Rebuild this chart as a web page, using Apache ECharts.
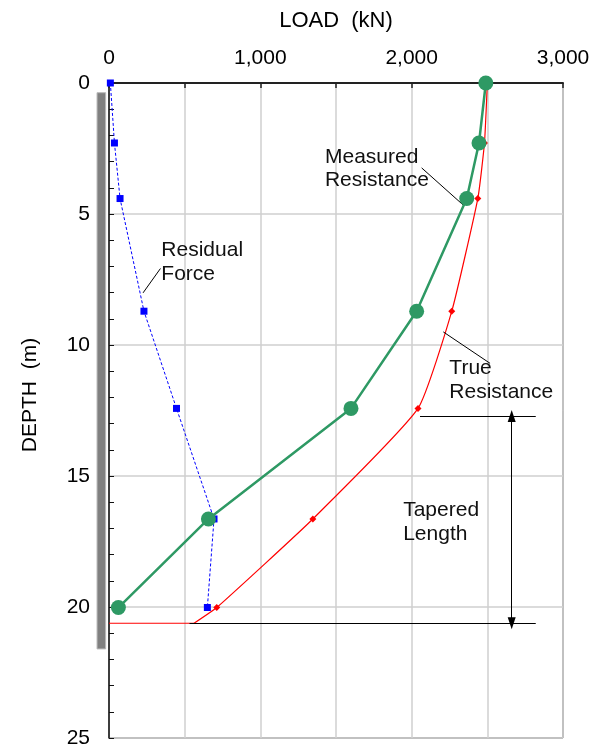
<!DOCTYPE html>
<html>
<head>
<meta charset="utf-8">
<script src="https://cdn.jsdelivr.net/npm/echarts@6/dist/echarts.min.js"></script>
<style>
html,body{margin:0;padding:0;background:#fff;}
#c{width:590px;height:749px;}
</style>
</head>
<body>
<div id="c"></div>
<script>
// ---- data ----
const depths = [0, 2.29, 4.41, 8.71, 12.42, 16.64, 20.02];
const measuredLoad = [2490, 2445, 2364, 2033, 1599, 657, 62];
const trueLoad = [2500, 2481, 2437, 2265, 2042, 1347, 712];
const residualLoad = [9, 36, 73, 231, 446, 694, 650];
const toeDepth = 20.62;
const trueToeLoad = 562;
const pileTop = 0.37, pileBottom = 21.6;
const pileLoadRange = [-79, -22];
const xTicks = [0, 1000, 2000, 3000];
const yTicks = [0, 5, 10, 15, 20, 25];
// annotation anchors (data units: [load, depth])
const taperTop = 12.71, taperBottom = toeDepth;
const taperLineX = [2055, 2820];
const taperArrowX = 2661;

const FONT = '"Liberation Sans", Arial, Helvetica, sans-serif';
const GREEN = '#2e9964';

const chart = echarts.init(document.getElementById('c'), null, {renderer: 'canvas'});
const pair = (xs) => xs.map((x, i) => [x, depths[i]]);

const trueData = pair(trueLoad).map(p => ({value: p}));
trueData.push({value: [trueToeLoad, toeDepth], symbolSize: 0});

const option = {
  backgroundColor: '#fff',
  animation: false,
  textStyle: {fontFamily: FONT},
  grid: {left: 109, right: 27, top: 83, bottom: 11, containLabel: false, outerBoundsMode: 'none',
    show: true, borderColor: '#333', borderWidth: 1},
  xAxis: {
    type: 'value', position: 'top', min: 0, max: 3000, interval: 500,
    name: 'LOAD  (kN)', nameLocation: 'middle', nameGap: 51,
    nameTextStyle: {fontSize: 22, color: '#000', fontFamily: FONT},
    axisLine: {show: true, lineStyle: {color: '#222', width: 2}},
    axisTick: {show: true, inside: true, length: 5, lineStyle: {color: '#222', width: 1.5}},
    axisLabel: {fontSize: 21, color: '#000', margin: 14, fontFamily: FONT,
      formatter: v => xTicks.indexOf(v) >= 0 ? v.toLocaleString('en-US') : ''},
    splitLine: {show: true, lineStyle: {color: '#cfcfcf', width: 1.5}}
  },
  yAxis: {
    type: 'value', inverse: true, min: 0, max: 25, interval: 5,
    axisLine: {show: true, lineStyle: {color: '#111', width: 1.5}},
    axisTick: {show: true, inside: true, length: 5, lineStyle: {color: '#111'}},
    minorTick: {show: true, splitNumber: 5, length: 5, lineStyle: {color: '#111'}},
    axisLabel: {fontSize: 21, color: '#000', margin: 19, fontFamily: FONT,
      formatter: v => yTicks.indexOf(v) >= 0 ? String(v) : ''},
    splitLine: {show: true, lineStyle: {color: '#cfcfcf', width: 1.5}}
  },
  series: [
    {
      type: 'custom', name: 'Pile', clip: false, z: 1,
      data: [[pileLoadRange[0], pileTop, pileLoadRange[1], pileBottom]],
      renderItem: (params, api) => {
        const a = api.coord([api.value(0), api.value(1)]);
        const b = api.coord([api.value(2), api.value(3)]);
        return {type: 'rect', shape: {x: a[0], y: a[1], width: b[0] - a[0], height: b[1] - a[1]},
          style: {fill: '#808080', stroke: '#b8b8b8', lineWidth: 1}};
      }
    },
    {
      type: 'line', name: 'True Resistance', data: trueData, smooth: 0.15,
      symbol: 'diamond', symbolSize: 7, z: 3,
      lineStyle: {color: '#ff0000', width: 1.2}, itemStyle: {color: '#ff0000'}
    },
    {
      type: 'line', name: 'Toe', data: [[trueToeLoad, toeDepth], [0, toeDepth]],
      symbol: 'none', z: 3, lineStyle: {color: '#ff0000', width: 1.2}
    },
    {
      type: 'line', name: 'Residual Force', data: pair(residualLoad),
      symbol: 'rect', symbolSize: 7, z: 4,
      lineStyle: {color: '#0000ff', width: 1, type: [3, 2]}, itemStyle: {color: '#0000ff'}
    },
    {
      type: 'line', name: 'Measured Resistance', data: pair(measuredLoad),
      symbol: 'circle', symbolSize: 15, z: 5,
      lineStyle: {color: GREEN, width: 2.5}, itemStyle: {color: GREEN}
    },
    {
      type: 'line', name: 'Tapered', data: [], z: 6, symbol: 'none',
      markLine: {
        silent: true, animation: false,
        label: {show: false},
        lineStyle: {color: '#000', width: 1, type: 'solid'},
        symbol: ['none', 'none'],
        data: [
          [{coord: [taperLineX[0], taperTop]}, {coord: [taperLineX[1], taperTop]}],
          [{coord: [trueToeLoad - 30, taperBottom]}, {coord: [taperLineX[1], taperBottom]}],
          [{coord: [taperArrowX, taperTop], symbol: 'triangle', symbolSize: [8, 12], symbolRotate: 0},
           {coord: [taperArrowX, taperBottom], symbol: 'triangle', symbolSize: [8, 12], symbolRotate: 180}],
          [{coord: [225, 8.01]}, {coord: [340, 7.08]}],
          [{coord: [2066, 3.24]}, {coord: [2341, 4.66]}],
          [{coord: [2518, 10.70]}, {coord: [2209, 9.50]}]
        ]
      }
    }
  ]
};
chart.setOption(option);

// text annotations placed via the chart's own scales
const labels = [
  {text: 'Residual\nForce', at: [346, 6.84]},
  {text: 'Measured\nResistance', at: [1427, 3.27]},
  {text: 'True\nResistance', at: [2249, 11.34]},
  {text: 'Tapered\nLength', at: [1944, 16.77]}
];
const graphics = labels.map(l => {
  const p = chart.convertToPixel({gridIndex: 0}, l.at);
  return {type: 'text', x: p[0], y: p[1], z: 20,
    style: {text: l.text, font: '21px ' + FONT, fill: '#111', align: 'left', verticalAlign: 'middle', lineHeight: 23.5}};
});
graphics.push({type: 'text', x: 30, y: 395, rotation: Math.PI / 2, z: 20,
  style: {text: 'DEPTH  (m)', font: '21px ' + FONT, fill: '#000', align: 'center', verticalAlign: 'middle'}});
chart.setOption({graphic: graphics});
</script>
</body>
</html>
